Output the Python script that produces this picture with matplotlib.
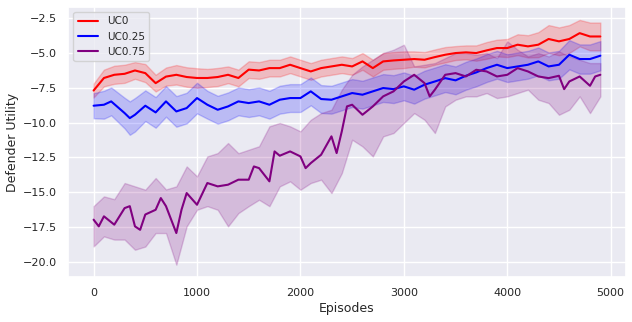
import matplotlib
matplotlib.use("Agg")
import matplotlib.pyplot as plt
import seaborn as sns
import numpy as np

sns.set_theme(style="darkgrid")
plt.rcParams['font.family'] = ['DejaVu Sans']

# ---------------- data ----------------
x_uc0 = [0, 100, 200, 300, 400, 500, 600, 700, 800, 900, 1000, 1100, 1200, 1300, 1400,
         1500, 1600, 1700, 1800, 1900, 2000, 2100, 2200, 2300, 2400, 2500, 2600, 2700,
         2800, 2900, 3000, 3100, 3200, 3300, 3400, 3500, 3600, 3700, 3800, 3900, 4000,
         4100, 4200, 4300, 4400, 4500, 4600, 4700, 4800, 4900]
uc0_mean = [-7.7, -6.8, -6.57, -6.5, -6.26, -6.45, -7.17, -6.7, -6.57, -6.73, -6.8, -6.8,
            -6.73, -6.57, -6.8, -6.2, -6.26, -6.09, -6.09, -5.85, -6.09, -6.33, -6.09,
            -5.97, -5.85, -5.97, -5.61, -6.09, -5.61, -5.54, -5.49, -5.44, -5.49, -5.3,
            -5.13, -5.01, -4.96, -5.01, -4.82, -4.65, -4.65, -4.41, -4.53, -4.41, -4.0,
            -4.17, -4.0, -3.58, -3.82, -3.82]
uc0_half = [0.5, 0.6, 0.65, 0.65, 0.6, 0.65, 0.6, 0.65, 0.7, 0.7, 0.7, 0.65, 0.65, 0.6,
            0.6, 0.6, 0.6, 0.6, 0.6, 0.6, 0.6, 0.6, 0.6, 0.6, 0.6, 0.6, 0.6, 0.6, 0.6,
            0.6, 0.6, 0.55, 0.55, 0.55, 0.55, 0.5, 0.5, 0.55, 0.6, 0.6, 0.65, 0.75, 0.8,
            0.9, 1.0, 1.0, 1.0, 0.95, 1.0, 1.0]

x_uc25 = [0, 100, 170, 300, 350, 400, 500, 600, 700, 800, 900, 1000, 1100, 1200, 1300,
          1400, 1500, 1600, 1700, 1800, 1900, 2000, 2100, 2200, 2300, 2400, 2500, 2600,
          2700, 2800, 2900, 3000, 3100, 3200, 3300, 3400, 3500, 3600, 3700, 3800, 3900,
          4000, 4100, 4200, 4300, 4400, 4500, 4600, 4700, 4800, 4900]
uc25_mean = [-8.79, -8.72, -8.48, -9.32, -9.68, -9.44, -8.79, -9.27, -8.48, -9.2, -8.96,
             -8.24, -8.72, -9.08, -8.84, -8.48, -8.6, -8.48, -8.72, -8.36, -8.24, -8.24,
             -7.76, -8.31, -8.36, -8.12, -7.88, -8.0, -7.76, -7.52, -7.6, -7.4, -7.64,
             -7.28, -7.05, -6.81, -6.97, -6.64, -6.4, -6.09, -5.85, -6.09, -5.97, -5.85,
             -5.61, -5.97, -5.85, -5.13, -5.44, -5.44, -5.2]
uc25_half = [0.9, 1.0, 1.0, 1.1, 1.2, 1.2, 1.1, 1.1, 1.1, 1.1, 1.1, 1.1, 1.0, 1.0, 1.0,
             1.0, 1.0, 1.0, 1.0, 1.0, 1.0, 1.0, 1.0, 1.0, 1.0, 1.0, 1.0, 1.0, 1.0, 1.0,
             1.0, 1.0, 1.0, 1.0, 1.0, 1.0, 1.0, 1.0, 1.0, 1.0, 1.0, 1.0, 1.0, 1.0, 1.0,
             1.0, 1.0, 1.05, 1.05, 1.05, 1.05]

x_uc75 = [0, 50, 100, 200, 300, 350, 400, 450, 500, 600, 650, 700, 800, 850, 900, 1000,
          1100, 1200, 1300, 1400, 1500, 1550, 1600, 1700, 1750, 1800, 1900, 2000, 2050,
          2100, 2200, 2300, 2350, 2400, 2450, 2500, 2600, 2700, 2800, 2900, 3000, 3100,
          3200, 3250, 3300, 3400, 3500, 3600, 3700, 3800, 3900, 4000, 4100, 4200, 4300,
          4400, 4500, 4550, 4600, 4700, 4800, 4850, 4900]
uc75_mean = [-16.97, -17.45, -16.73, -17.33, -16.14, -16.0, -17.45, -17.7, -16.6, -16.26,
             -15.42, -16.0, -17.93, -16.26, -15.06, -15.9, -14.34, -14.58, -14.46, -14.1,
             -14.1, -13.15, -13.27, -14.22, -12.07, -12.38, -12.07, -12.43, -13.27, -12.91,
             -12.31, -10.99, -12.19, -10.63, -8.84, -8.72, -9.44, -8.84, -8.12, -7.76,
             -7.05, -6.57, -7.17, -8.12, -7.64, -6.57, -6.45, -6.69, -6.21, -6.33, -6.69,
             -6.57, -6.09, -6.33, -6.69, -6.81, -6.64, -7.6, -7.05, -6.69, -7.36, -6.69,
             -6.57]

x_band75 = [0, 100, 200, 300, 400, 500, 600, 700, 800, 900, 1000, 1100, 1200, 1300, 1400,
            1500, 1600, 1700, 1800, 1900, 2000, 2100, 2200, 2300, 2400, 2500, 2600, 2700,
            2800, 2900, 3000, 3100, 3200, 3300, 3400, 3500, 3600, 3700, 3800, 3900, 4000,
            4100, 4200, 4300, 4400, 4500, 4600, 4700, 4800, 4900]
uc75_upper = [-16.0, -15.3, -15.5, -14.34, -14.58, -14.82, -13.98, -14.8, -14.58, -13.15,
              -13.86, -12.43, -12.19, -11.47, -12.2, -11.95, -11.7, -10.27, -10.03, -10.27,
              -10.63, -9.8, -9.32, -9.08, -7.64, -6.57, -5.97, -5.49, -5.01, -4.77, -4.41,
              -5.97, -5.85, -5.73, -5.37, -5.01, -5.01, -5.13, -5.01, -5.37, -4.17, -4.77,
              -5.25, -5.01, -5.25, -4.89, -5.25, -5.49, -5.73, -5.73]
uc75_lower = [-18.89, -18.17, -18.4, -18.4, -19.13, -18.9, -17.93, -17.93, -20.2, -17.45,
              -16.26, -16.0, -16.26, -17.45, -16.5, -16.0, -15.54, -16.0, -14.58, -14.22,
              -14.82, -14.34, -14.1, -15.06, -13.63, -11.23, -11.71, -12.43, -10.99, -10.75,
              -10.03, -9.32, -9.8, -10.75, -8.84, -8.36, -8.12, -8.12, -7.88, -8.24, -8.12,
              -7.88, -7.64, -8.36, -8.6, -9.44, -9.08, -8.12, -9.32, -8.12]

labels = ["UC0", "UC0.25", "UC0.75"]
colors = ["red", "blue", "purple"]

# ---------------- plot ----------------
fig = plt.figure(figsize=(6.32, 3.22), dpi=100)
ax = fig.add_axes([0.108, 0.14, 0.882, 0.838])

m0 = np.array(uc0_mean); h0 = np.array(uc0_half)
m1 = np.array(uc25_mean); h1 = np.array(uc25_half)

ax.plot(x_uc0, uc0_mean, color=colors[0], lw=1.5, label=labels[0])
ax.fill_between(x_uc0, m0 - h0, m0 + h0, color=colors[0], alpha=0.2)
ax.plot(x_uc25, uc25_mean, color=colors[1], lw=1.5, label=labels[1])
ax.fill_between(x_uc25, m1 - h1, m1 + h1, color=colors[1], alpha=0.2)
ax.plot(x_uc75, uc75_mean, color=colors[2], lw=1.5, label=labels[2])
ax.fill_between(x_band75, uc75_lower, uc75_upper, color=colors[2], alpha=0.2)

ax.set_ylim(-21.08, -1.71)
ax.set_xlabel("Episodes", fontsize=9, labelpad=3)
ax.set_ylabel("Defender Utility", fontsize=9, labelpad=3)
ax.tick_params(labelsize=8, pad=2)
ax.set_yticks([-20.0, -17.5, -15.0, -12.5, -10.0, -7.5, -5.0, -2.5])
ax.set_xticks([0, 1000, 2000, 3000, 4000, 5000])
ax.legend(loc="upper left", fontsize=7.5)

fig.savefig("out.png", dpi=100)
